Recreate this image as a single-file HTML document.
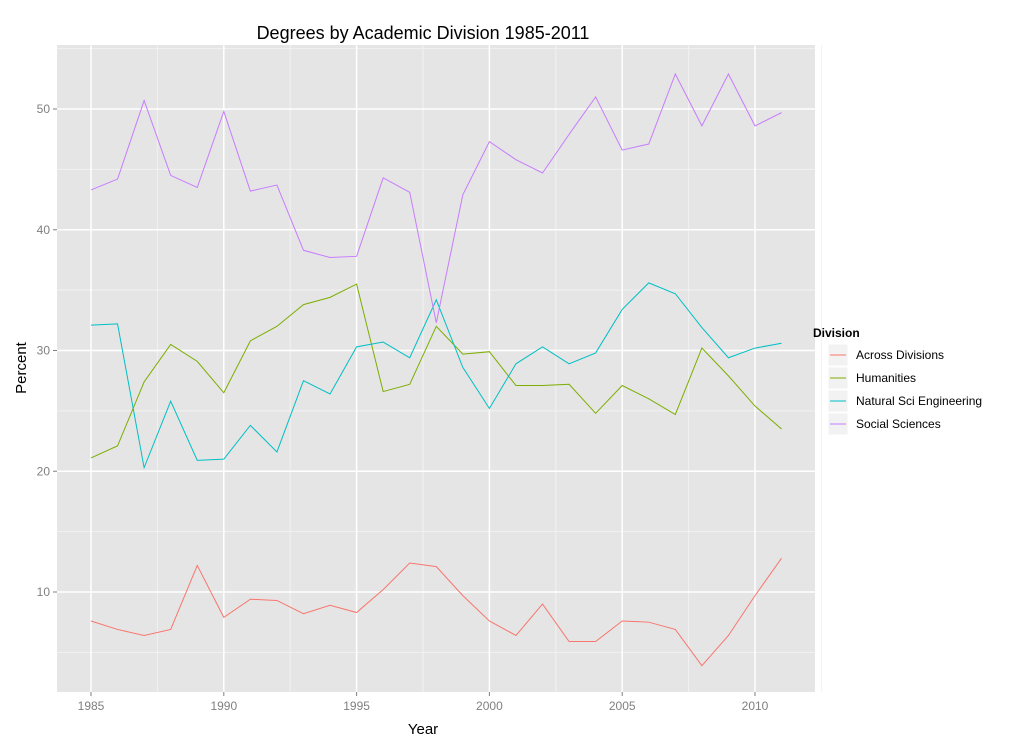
<!DOCTYPE html>
<html><head><meta charset="utf-8"><style>
body{margin:0;background:#fff;font-family:"Liberation Sans",sans-serif}
</style></head><body>
<svg id="chart" width="1022" height="748" xmlns="http://www.w3.org/2000/svg" font-family="Liberation Sans, sans-serif">
<rect x="57" y="45" width="758" height="647" fill="#E5E5E5"/>
<g id="grid"></g>
<g id="lines"></g>
<g id="axes"></g>
<text x="423" y="39" font-size="18" text-anchor="middle">Degrees by Academic Division 1985-2011</text>
<text x="423" y="734" font-size="15" text-anchor="middle">Year</text>
<text x="0" y="0" font-size="15" text-anchor="middle" transform="translate(26,368) rotate(-90)">Percent</text>
<g id="legend">
<text x="813" y="337" font-size="12" font-weight="bold">Division</text>
</g>
</svg>
<script>
const years=[1985,1986,1987,1988,1989,1990,1991,1992,1993,1994,1995,1996,1997,1998,1999,2000,2001,2002,2003,2004,2005,2006,2007,2008,2009,2010,2011];
const seriesNames=["Across Divisions","Humanities","Natural Sci Engineering","Social Sciences"];
const across=[7.6,6.9,6.4,6.9,12.2,7.9,9.4,9.3,8.2,8.9,8.3,10.2,12.4,12.1,9.7,7.6,6.4,9.0,5.9,5.9,7.6,7.5,6.9,3.9,6.4,9.7,12.8];
const humanities=[21.1,22.1,27.4,30.5,29.1,26.5,30.8,32.0,33.8,34.4,35.5,26.6,27.2,32.0,29.7,29.9,27.1,27.1,27.2,24.8,27.1,26.0,24.7,30.2,27.9,25.4,23.5];
const natsci=[32.1,32.2,20.3,25.8,20.9,21.0,23.8,21.6,27.5,26.4,30.3,30.7,29.4,34.2,28.6,25.2,28.9,30.3,28.9,29.8,33.4,35.6,34.7,31.9,29.4,30.2,30.6];
const social=[43.3,44.2,50.7,44.5,43.5,49.8,43.2,43.7,38.3,37.7,37.8,44.3,43.1,32.3,42.9,47.3,45.8,44.7,47.9,51.0,46.6,47.1,52.9,48.6,52.9,48.6,49.7];
const xTicks=[1985,1990,1995,2000,2005,2010];
const yTicks=[10,20,30,40,50];
const colors=["#F8766D","#7CAE00","#00BFC4","#C77CFF"];
const NS="http://www.w3.org/2000/svg";
function X(v){return 91+(v-1985)*26.56;}
function Y(v){return 592-(v-10)*12.075;}
function mk(tag,attrs,parent){const e=document.createElementNS(NS,tag);for(const k in attrs)e.setAttribute(k,attrs[k]);parent.appendChild(e);return e;}
const grid=document.getElementById('grid'),lines=document.getElementById('lines'),axes=document.getElementById('axes'),legend=document.getElementById('legend');
for(let v=5;v<=55;v+=10){const l=mk('line',{x1:57,x2:815,y1:Y(v),y2:Y(v),stroke:'#F2F2F2','stroke-width':1},grid);}
for(let v=1987.5;v<=2012.5;v+=5){const l=mk('line',{x1:X(v),x2:X(v),y1:45,y2:692,stroke:'#F2F2F2','stroke-width':1},grid);}
yTicks.forEach(v=>{const l=mk('line',{x1:57,x2:815,y1:Y(v),y2:Y(v),stroke:'#fff','stroke-width':1.5},grid);
const t=mk('text',{x:50,y:Y(v)+4,'font-size':12,fill:'#7F7F7F','text-anchor':'end'},axes);t.textContent=v;
const tk=mk('line',{x1:53,x2:57,y1:Y(v),y2:Y(v),stroke:'#7F7F7F'},axes);});
xTicks.forEach(v=>{const l=mk('line',{x1:X(v),x2:X(v),y1:45,y2:692,stroke:'#fff','stroke-width':1.5},grid);
const t=mk('text',{x:X(v),y:710,'font-size':12,fill:'#7F7F7F','text-anchor':'middle'},axes);t.textContent=v;
const tk=mk('line',{x1:X(v),x2:X(v),y1:692,y2:696,stroke:'#7F7F7F'},axes);});
const allSeries=[across,humanities,natsci,social];
allSeries.forEach((s,i)=>{const p=mk('polyline',{points:s.map((v,j)=>X(years[j])+','+Y(v)).join(' '),fill:'none',stroke:colors[i],'stroke-width':1},lines);

const y0=355+i*23;
const r=mk('rect',{x:828,y:y0-11,width:20,height:22,fill:'#F2F2F2',stroke:'#fff'},legend);
const l=mk('line',{x1:830,x2:846,y1:y0,y2:y0,stroke:colors[i]},legend);
const t=mk('text',{x:856,y:y0+4,'font-size':12},legend);t.textContent=seriesNames[i];});
</script>
</body></html>
